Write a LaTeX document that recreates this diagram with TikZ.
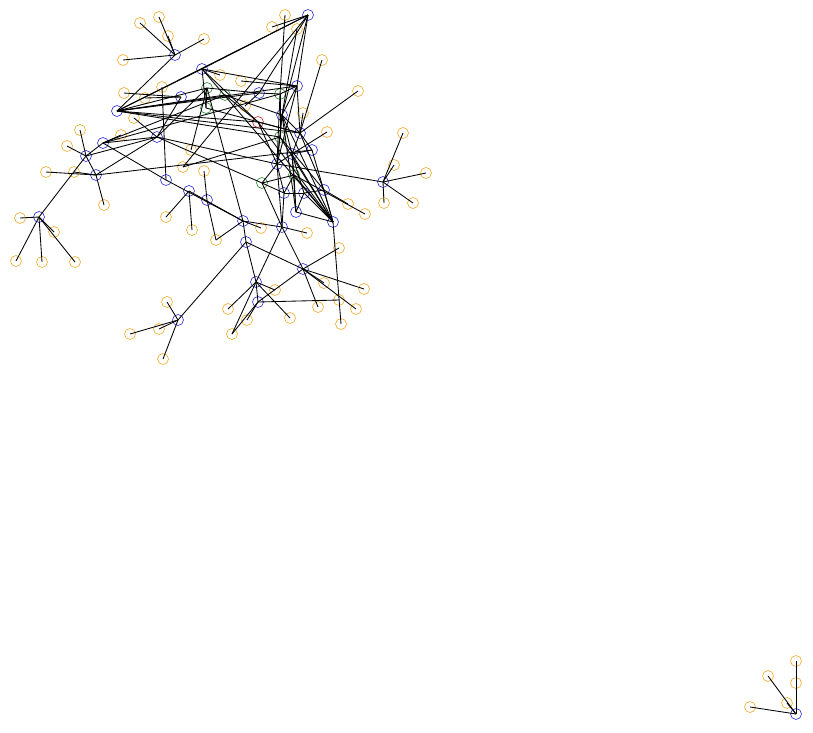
\documentclass[tikz,border=0pt]{standalone}
\usetikzlibrary{}
\definecolor{cor}{RGB}{238,170,40}
\definecolor{cbl}{RGB}{40,40,215}
\definecolor{cgr}{RGB}{40,140,40}
\definecolor{crd}{RGB}{205,40,40}
\tikzset{
  vtx/.style={circle,minimum size=11pt,inner sep=0pt,line width=0.6pt},
  ov/.style={vtx,draw=cor},
  bv/.style={vtx,draw=cbl},
  gv/.style={vtx,draw=cgr},
  rv/.style={vtx,draw=crd},
  ed/.style={line width=0.85pt,black}
}
\begin{document}
\begin{tikzpicture}[x=1pt,y=-1pt]
\useasboundingbox (0,0) rectangle (813,732);
% blue
\node[bv] (b1) at (175,55) {};
\node[bv] (b2) at (308,15) {};
\node[bv] (b3) at (202,69) {};
\node[bv] (b4) at (297,86) {};
\node[bv] (b5) at (181,97) {};
\node[bv] (b6) at (259,93) {};
\node[bv] (b7) at (117,111) {};
\node[bv] (b8) at (282,115) {};
\node[bv] (b9) at (300,133) {};
\node[bv] (b10) at (312,150) {};
\node[bv] (b11) at (292,154) {};
\node[bv] (b12) at (277,164) {};
\node[bv] (b13) at (157,137) {};
\node[bv] (b14) at (103,143) {};
\node[bv] (b15) at (86,156) {};
\node[bv] (b16) at (96,175) {};
\node[bv] (b17) at (39,217) {};
\node[bv] (b18) at (166,180) {};
\node[bv] (b19) at (189,191) {};
\node[bv] (b20) at (207,200) {};
\node[bv] (b21) at (243,221) {};
\node[bv] (b22) at (282,227) {};
\node[bv] (b23) at (246,242) {};
\node[bv] (b24) at (284,193) {};
\node[bv] (b25) at (304,193) {};
\node[bv] (b26) at (324,190) {};
\node[bv] (b27) at (296,212) {};
\node[bv] (b28) at (333,222) {};
\node[bv] (b29) at (383,182) {};
\node[bv] (b30) at (303,269) {};
\node[bv] (b31) at (256,282) {};
\node[bv] (b32) at (258,302) {};
\node[bv] (b33) at (178,320) {};
\node[bv] (b34) at (796,714) {};
% green / red
\node[gv] (g1) at (207,88) {};
\node[gv] (g2) at (225,95) {};
\node[gv] (g3) at (206,108) {};
\node[gv] (g4) at (280,94) {};
\node[gv] (g5) at (280,137) {};
\node[gv] (g6) at (294,175) {};
\node[gv] (g7) at (262,183) {};
\node[rv] (r1) at (258,122) {};
% orange
\node[ov] (o1) at (140,23) {};
\node[ov] (o2) at (159,17) {};
\node[ov] (o3) at (168,36) {};
\node[ov] (o4) at (204,39) {};
\node[ov] (o5) at (123,60) {};
\node[ov] (o6) at (285,15) {};
\node[ov] (o7) at (272,27) {};
\node[ov] (o8) at (297,29) {};
\node[ov] (o9) at (322,60) {};
\node[ov] (o10) at (220,75) {};
\node[ov] (o11) at (241,81) {};
\node[ov] (o12) at (245,106) {};
\node[ov] (o13) at (303,113) {};
\node[ov] (o14) at (327,132) {};
\node[ov] (o15) at (358,91) {};
\node[ov] (o16) at (124,93) {};
\node[ov] (o17) at (145,98) {};
\node[ov] (o18) at (162,87) {};
\node[ov] (o19) at (134,118) {};
\node[ov] (o20) at (80,130) {};
\node[ov] (o21) at (121,135) {};
\node[ov] (o22) at (67,146) {};
\node[ov] (o23) at (46,172) {};
\node[ov] (o24) at (74,172) {};
\node[ov] (o25) at (104,205) {};
\node[ov] (o26) at (20,218) {};
\node[ov] (o27) at (54,232) {};
\node[ov] (o28) at (16,261) {};
\node[ov] (o29) at (42,262) {};
\node[ov] (o30) at (75,262) {};
\node[ov] (o31) at (191,150) {};
\node[ov] (o32) at (183,167) {};
\node[ov] (o33) at (204,171) {};
\node[ov] (o34) at (166,217) {};
\node[ov] (o35) at (192,230) {};
\node[ov] (o36) at (216,240) {};
\node[ov] (o37) at (261,228) {};
\node[ov] (o38) at (307,233) {};
\node[ov] (o39) at (348,204) {};
\node[ov] (o40) at (365,214) {};
\node[ov] (o41) at (403,133) {};
\node[ov] (o42) at (394,165) {};
\node[ov] (o43) at (426,173) {};
\node[ov] (o44) at (384,203) {};
\node[ov] (o45) at (413,203) {};
\node[ov] (o46) at (339,248) {};
\node[ov] (o47) at (324,283) {};
\node[ov] (o48) at (364,289) {};
\node[ov] (o49) at (275,290) {};
\node[ov] (o50) at (339,300) {};
\node[ov] (o51) at (356,309) {};
\node[ov] (o52) at (318,307) {};
\node[ov] (o53) at (290,318) {};
\node[ov] (o54) at (228,309) {};
\node[ov] (o55) at (247,320) {};
\node[ov] (o56) at (232,334) {};
\node[ov] (o57) at (341,324) {};
\node[ov] (o58) at (167,302) {};
\node[ov] (o59) at (159,329) {};
\node[ov] (o60) at (130,334) {};
\node[ov] (o61) at (163,359) {};
\node[ov] (o62) at (796,661) {};
\node[ov] (o63) at (796,683) {};
\node[ov] (o64) at (768,676) {};
\node[ov] (o65) at (787,703) {};
\node[ov] (o66) at (750,707) {};
% edges
\foreach \a/\b in {
 b1/o1,b1/o2,b1/o3,b1/o4,b1/o5,b1/b7,
 b2/b3,b2/b7,b2/b6,b2/b4,b2/b8,b2/o7,b2/o32,
 g4/o6,b8/o8,b9/o9,b3/o10,b4/o11,b6/o12,b9/o13,b11/o14,b9/o15,
 b5/o16,b5/o17,b18/o18,b13/o19,b15/o20,b14/o21,b15/o22,
 b16/o23,b16/o24,b16/o25,
 b17/o26,b17/o27,b17/o28,b17/o29,b17/o30,b17/b15,
 g1/o31,g5/o32,b20/o33,b19/o34,b19/o35,b20/o36,b21/o36,b21/o37,b22/o38,
 b26/o39,g6/o40,
 b29/o41,b29/o42,b29/o43,b29/o44,b29/o45,b29/b12,
 b30/o46,b30/o47,b30/o48,b31/o49,b32/o50,b30/o51,b30/o52,b31/o53,b31/o54,
 b32/o55,b31/o56,b32/o56,b28/o57,
 b33/o58,b33/o59,b33/o60,b33/o61,b33/b23,
 b34/o62,b34/o63,b34/o64,b34/o65,b34/o66,
 b7/b3,b7/g1,b7/g2,b7/b6,b7/r1,b7/b4,b7/g5,b7/b9,
 b3/b4,b3/r1,b3/b28,b3/g3,
 g1/g3,g1/b21,g1/b6,g2/r1,g2/b8,g3/b9,
 g4/b4,g4/b6,g4/g5,g4/b12,
 g5/b8,g5/b12,g5/b28,g5/b26,
 g6/g7,g6/b11,g6/b24,g6/b27,g6/b28,
 g7/b12,g7/b22,g7/b24,g7/b13,
 r1/b12,r1/b28,r1/b9,
 b4/b8,b4/b9,b4/b12,
 b8/b9,b8/b11,b8/b12,b8/b27,b8/b28,
 b9/b11,b9/b10,b9/b26,
 b10/b11,b10/b28,b10/b16,
 b11/b12,b11/b25,b11/b28,b11/b27,
 b12/b22,b12/b24,
 b24/b25,b24/b22,b25/b27,b25/b28,b25/b26,b26/b28,b27/b28,
 b22/b21,b22/b31,b22/b30,
 b21/b18,b21/b19,b21/b23,
 b23/b30,b23/b31,b31/b32,b32/b30,
 b18/b14,
 b13/b14,b13/b15,b13/b16,b13/g1,b13/b5,b13/b12,
 b14/b15,b14/g2,b14/g4,b15/b16}
 \draw[ed] (\a.center) -- (\b.center);
\end{tikzpicture}
\end{document}
